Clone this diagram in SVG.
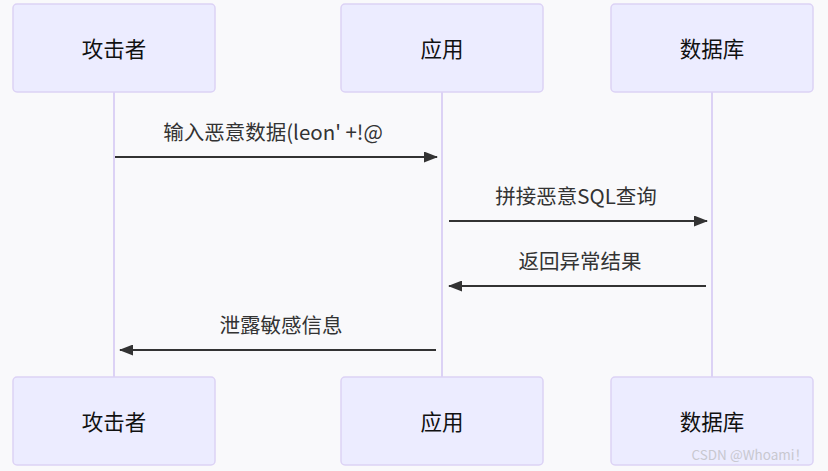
<svg xmlns="http://www.w3.org/2000/svg" width="828" height="471" viewBox="0 0 828 471">
<style>
.actor{fill:#ECECFF;stroke:#dcd2f5;stroke-width:1.5}
.atext{font-family:"Noto Sans CJK SC","Noto Sans",sans-serif;font-size:21.5px;fill:#111;text-anchor:middle;dominant-baseline:central}
.life{stroke:#dcd2f5;stroke-width:2}
.msg{stroke:#333;stroke-width:2;fill:none}
.mtext{font-family:"Noto Sans CJK SC","Noto Sans",sans-serif;font-size:20.5px;fill:#333;text-anchor:middle;dominant-baseline:central}
.wm{font-family:"Noto Sans CJK SC","Noto Sans",sans-serif;font-size:13.5px;fill:#c8c8d0;text-anchor:end}
</style>
<defs>
<marker id="arr" viewBox="0 0 14 11" refX="13" refY="5.5" markerWidth="14" markerHeight="11" markerUnits="userSpaceOnUse" orient="auto">
<path d="M0,0 L14,5.5 L0,11 z" fill="#333"/>
</marker>
</defs>
<rect width="828" height="471" fill="#f9f9fb"/>
<g id="lifelines">
<line class="life" x1="114" y1="92" x2="114" y2="377"/>
<line class="life" x1="442" y1="92" x2="442" y2="377"/>
<line class="life" x1="712" y1="92" x2="712" y2="377"/>
</g>
<g id="attacker-top"><rect class="actor" x="13" y="4" width="202" height="88" rx="4"/><text class="atext" x="114" y="47">攻击者</text></g>
<g id="app-top"><rect class="actor" x="341" y="4" width="202" height="88" rx="4"/><text class="atext" x="442" y="47">应用</text></g>
<g id="db-top"><rect class="actor" x="611" y="4" width="202" height="88" rx="4"/><text class="atext" x="712" y="47">数据库</text></g>
<g id="attacker-bottom"><rect class="actor" x="13" y="377" width="202" height="88" rx="4"/><text class="atext" x="114" y="420">攻击者</text></g>
<g id="app-bottom"><rect class="actor" x="341" y="377" width="202" height="88" rx="4"/><text class="atext" x="442" y="420">应用</text></g>
<g id="db-bottom"><rect class="actor" x="611" y="377" width="202" height="88" rx="4"/><text class="atext" x="712" y="420">数据库</text></g>
<g id="connectors">
<line class="msg" x1="115" y1="157" x2="437" y2="157" marker-end="url(#arr)"/>
<text class="mtext" x="273" y="131">输入恶意数据(leon' +!@</text>
<line class="msg" x1="449" y1="221" x2="707" y2="221" marker-end="url(#arr)"/>
<text class="mtext" x="576" y="195">拼接恶意SQL查询</text>
<line class="msg" x1="706" y1="286" x2="449" y2="286" marker-end="url(#arr)"/>
<text class="mtext" x="580" y="260">返回异常结果</text>
<line class="msg" x1="436" y1="350" x2="120" y2="350" marker-end="url(#arr)"/>
<text class="mtext" x="281" y="324">泄露敏感信息</text>
</g>
<text class="wm" x="808" y="460">CSDN @Whoami！</text>
</svg>
